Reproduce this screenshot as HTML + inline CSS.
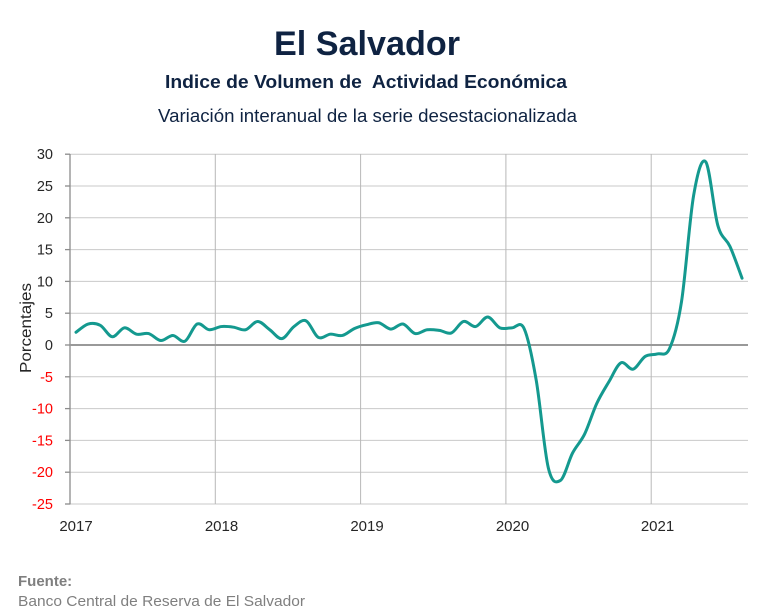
<!DOCTYPE html>
<html>
<head>
<meta charset="utf-8">
<style>
  html,body{margin:0;padding:0;background:#ffffff;}
  svg{display:block;}
  text{font-family:"Liberation Sans",Arial,sans-serif;}
</style>
</head>
<body>
<svg id="chart" width="765" height="613" viewBox="0 0 765 613" xmlns="http://www.w3.org/2000/svg">
  <rect x="0" y="0" width="765" height="613" fill="#ffffff"/>

  <!-- Titles -->
  <text x="367" y="55" text-anchor="middle" font-size="34" font-weight="bold" fill="#0f2342" textLength="186" lengthAdjust="spacingAndGlyphs">El Salvador</text>
  <text x="366" y="88" text-anchor="middle" font-size="18.5" font-weight="bold" fill="#0f2342" textLength="402" lengthAdjust="spacingAndGlyphs" xml:space="preserve">Indice de Volumen de  Actividad Económica</text>
  <text x="367.5" y="122" text-anchor="middle" font-size="18" fill="#0f2342" textLength="419" lengthAdjust="spacingAndGlyphs">Variación interanual de la serie desestacionalizada</text>

  <!-- Horizontal gridlines -->
  <g stroke="#c9c9c9" stroke-width="1">
    <line x1="70" y1="154.2" x2="748" y2="154.2"/>
    <line x1="70" y1="186.0" x2="748" y2="186.0"/>
    <line x1="70" y1="217.8" x2="748" y2="217.8"/>
    <line x1="70" y1="249.6" x2="748" y2="249.6"/>
    <line x1="70" y1="281.4" x2="748" y2="281.4"/>
    <line x1="70" y1="313.2" x2="748" y2="313.2"/>
    <line x1="70" y1="376.8" x2="748" y2="376.8"/>
    <line x1="70" y1="408.6" x2="748" y2="408.6"/>
    <line x1="70" y1="440.4" x2="748" y2="440.4"/>
    <line x1="70" y1="472.2" x2="748" y2="472.2"/>
    <line x1="70" y1="504.0" x2="748" y2="504.0"/>
  </g>
  <!-- Vertical gridlines -->
  <g stroke="#b8b8b8" stroke-width="1">
    <line x1="215.3" y1="154" x2="215.3" y2="504"/>
    <line x1="360.6" y1="154" x2="360.6" y2="504"/>
    <line x1="505.9" y1="154" x2="505.9" y2="504"/>
    <line x1="651.2" y1="154" x2="651.2" y2="504"/>
  </g>

  <!-- Y axis and ticks -->
  <g stroke="#8c8c8c" stroke-width="1.3">
    <line x1="70" y1="154" x2="70" y2="504.5"/>
    <line x1="65" y1="154.2" x2="70" y2="154.2"/>
    <line x1="65" y1="186.0" x2="70" y2="186.0"/>
    <line x1="65" y1="217.8" x2="70" y2="217.8"/>
    <line x1="65" y1="249.6" x2="70" y2="249.6"/>
    <line x1="65" y1="281.4" x2="70" y2="281.4"/>
    <line x1="65" y1="313.2" x2="70" y2="313.2"/>
    <line x1="65" y1="345" x2="70" y2="345"/>
    <line x1="65" y1="376.8" x2="70" y2="376.8"/>
    <line x1="65" y1="408.6" x2="70" y2="408.6"/>
    <line x1="65" y1="440.4" x2="70" y2="440.4"/>
    <line x1="65" y1="472.2" x2="70" y2="472.2"/>
    <line x1="65" y1="504.0" x2="70" y2="504.0"/>
  </g>
  <!-- Zero line -->
  <line x1="70" y1="345" x2="748" y2="345" stroke="#999999" stroke-width="2"/>

  <!-- Y tick labels -->
  <g font-size="14.5" text-anchor="end" fill="#262626">
    <text x="53" y="159.2">30</text>
    <text x="53" y="191.0">25</text>
    <text x="53" y="222.8">20</text>
    <text x="53" y="254.6">15</text>
    <text x="53" y="286.4">10</text>
    <text x="53" y="318.2">5</text>
    <text x="53" y="350.0">0</text>
  </g>
  <g font-size="14.5" text-anchor="end" fill="#ff0000">
    <text x="53" y="381.8">-5</text>
    <text x="53" y="413.6">-10</text>
    <text x="53" y="445.4">-15</text>
    <text x="53" y="477.2">-20</text>
    <text x="53" y="509.0">-25</text>
  </g>

  <!-- X tick labels -->
  <g font-size="15" text-anchor="middle" fill="#262626">
    <text x="76" y="531">2017</text>
    <text x="221.5" y="531">2018</text>
    <text x="367" y="531">2019</text>
    <text x="512.5" y="531">2020</text>
    <text x="657.5" y="531">2021</text>
  </g>

  <!-- Y axis title -->
  <text transform="translate(31,328) rotate(-90)" text-anchor="middle" font-size="15.5" fill="#262626" textLength="90" lengthAdjust="spacingAndGlyphs">Porcentajes</text>

  <!-- Series -->
  <path id="series" d="" fill="none" stroke="#14998f" stroke-width="3" stroke-linejoin="round" stroke-linecap="round"/>

  <!-- Footer -->
  <text x="18" y="586" font-size="15" font-weight="bold" fill="#7f7f7f">Fuente:</text>
  <text x="18" y="606" font-size="15" fill="#7f7f7f" textLength="287" lengthAdjust="spacingAndGlyphs">Banco Central de Reserva de El Salvador</text>
</svg>
<script>
(function(){
  var v = [
    2.0, 3.3, 3.1, 1.3, 2.7, 1.7, 1.8, 0.7, 1.5, 0.6, 3.3, 2.4,
    2.9, 2.8, 2.4, 3.7, 2.4, 1.0, 2.9, 3.8, 1.2, 1.7, 1.5, 2.6,
    3.2, 3.5, 2.5, 3.3, 1.8, 2.4, 2.3, 1.9, 3.7, 2.9, 4.4, 2.7,
    2.7, 2.6, -5.5, -19.3, -21.3, -17.0, -14.0, -9.2, -5.8, -2.8, -3.8, -1.8,
    -1.4, -0.6, 6.8, 23.5, 28.8, 18.8, 15.5, 10.5
  ];
  var pts = v.map(function(val, i){ return [76 + 12.11*i, 345 - val*6.36]; });
  var d = "M" + pts[0][0].toFixed(2) + "," + pts[0][1].toFixed(2);
  for (var i = 0; i < pts.length - 1; i++) {
    var p0 = pts[i-1] || pts[i];
    var p1 = pts[i];
    var p2 = pts[i+1];
    var p3 = pts[i+2] || pts[i+1];
    var c1x = p1[0] + (p2[0]-p0[0])/6, c1y = p1[1] + (p2[1]-p0[1])/6;
    var c2x = p2[0] - (p3[0]-p1[0])/6, c2y = p2[1] - (p3[1]-p1[1])/6;
    d += " C" + c1x.toFixed(2) + "," + c1y.toFixed(2) + " " + c2x.toFixed(2) + "," + c2y.toFixed(2) + " " + p2[0].toFixed(2) + "," + p2[1].toFixed(2);
  }
  document.getElementById("series").setAttribute("d", d);
})();
</script>
</body>
</html>
